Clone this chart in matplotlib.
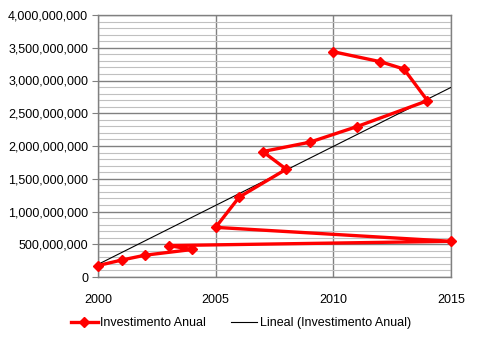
import matplotlib
matplotlib.use("Agg")
import matplotlib.pyplot as plt
import numpy as np
from matplotlib.ticker import FuncFormatter, MultipleLocator

plt.rcParams['font.family'] = ['Liberation Sans', 'DejaVu Sans']

years = [2000, 2001, 2002, 2004, 2003, 2015, 2005, 2006, 2008, 2007, 2009, 2011, 2014, 2013, 2012, 2010]
invest = [175e6, 258e6, 333e6, 420e6, 480e6, 545e6, 758e6, 1220e6, 1646e6, 1915e6,
          2058e6, 2296e6, 2692e6, 3175e6, 3287e6, 3439e6]
series_label = "Investimento Anual"
trend_label = "Lineal (Investimento Anual)"

fig = plt.figure(figsize=(4.79, 3.43), dpi=100)
ax = fig.add_axes([98/479, 1-277/343, (451-98)/479, (277-15)/343])

x = np.array(years, dtype=float)
y = np.array(invest, dtype=float)
coef = np.polyfit(x, y, 1)
xt = np.array([2000, 2015], dtype=float)
ax.plot(xt, np.polyval(coef, xt), color='black', lw=0.8, zorder=3, label=trend_label)
ax.plot(x, y, color='#FF0000', lw=2.4, marker='D', ms=5, mec='#FF0000', mfc='#FF0000',
        zorder=4, label=series_label, clip_on=False)

ax.set_xlim(2000, 2015)
ax.set_ylim(0, 4e9)
ax.set_axisbelow(True)
ax.xaxis.set_major_locator(MultipleLocator(5))
ax.yaxis.set_major_locator(MultipleLocator(5e8))
ax.yaxis.set_minor_locator(MultipleLocator(1e8))
ax.yaxis.set_major_formatter(FuncFormatter(lambda v, p: f"{int(v):,}"))
ax.grid(which='minor', axis='y', color='#C0C0C0', lw=0.8)
ax.grid(which='major', axis='both', color='#808080', lw=1.0)
for s in ['left', 'bottom', 'top', 'right']:
    ax.spines[s].set_color('#808080')
    ax.spines[s].set_linewidth(1.0)
ax.tick_params(axis='y', which='major', length=4, color='#808080', labelsize=9, pad=3)
ax.tick_params(axis='y', which='minor', length=0)
ax.tick_params(axis='x', which='major', length=0, labelsize=9, pad=12)

h, l = ax.get_legend_handles_labels()
fig.legend(h[::-1], l[::-1], loc='center', bbox_to_anchor=(241/479, 1-323/343), ncol=2,
           frameon=False, fontsize=9, handlelength=2.1, handletextpad=0.2, columnspacing=2.0)

fig.savefig("out.png", dpi=100)
